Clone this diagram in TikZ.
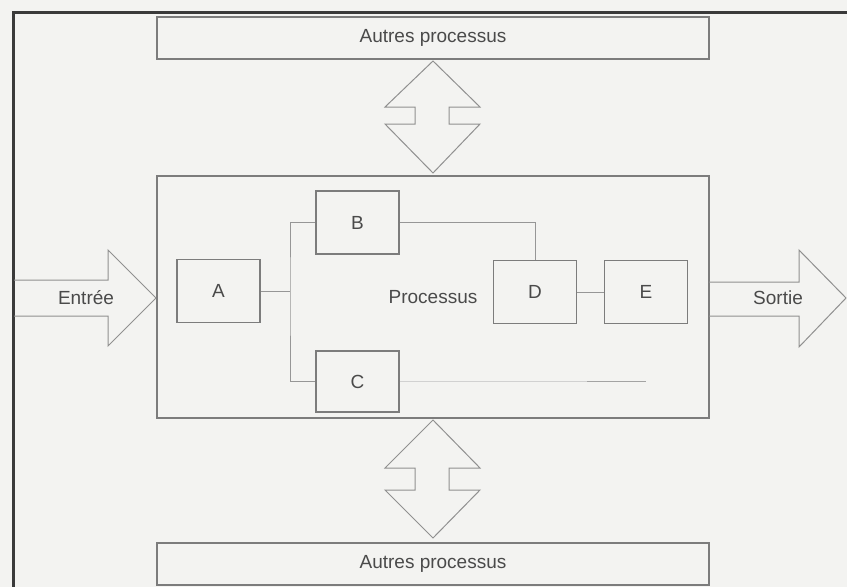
\documentclass[tikz,border=0pt]{standalone}
\usepackage{fontspec}
\setmainfont{Liberation Sans}
\definecolor{paper}{HTML}{F3F3F1}
\definecolor{ink}{HTML}{7C7C7C}
\definecolor{txt}{HTML}{4A4A4A}
\definecolor{frame}{HTML}{3A3A3A}
\begin{document}
\begin{tikzpicture}[x=1pt,y=-1pt,
  every node/.style={font=\fontsize{19}{22}\selectfont, text=txt, inner sep=0pt},
  wide/.style={draw=ink, line width=1.3pt, minimum width=552pt, minimum height=42pt},
  blk/.style={draw=ink, line width=1.6pt, minimum width=83pt, minimum height=63pt},
  wire/.style={draw=ink!80, line width=1pt},
  fat/.style={draw=ink!85, line width=1pt, line join=miter}]
\useasboundingbox (0,0) rectangle (847,587);
\fill[paper] (0,0) rectangle (847,587);
% outer frame (only its left and top sides fall inside the page)
\draw[frame, line width=3pt] (13,600) -- (13,12) -- (860,12);

% main boxes
\node[wide] (top) at (433,38) {Autres processus};
\node[wide, minimum height=242pt] (proc) at (433,297) {Processus};
\node[wide] (bot) at (433,564) {Autres processus};

% inner steps
\node[blk] (A) at (218.5,291) {A};
\node[blk] (B) at (357.5,222.5) {B};
\node[blk, minimum height=61pt] (C) at (357.5,381.5) {C};
\node[blk] (D) at (535,292) {D};
\node[blk] (E) at (646,292) {E};

% connectors between the steps
\coordinate (split) at (290,291);
\draw[wire] (A.east) -- (split);
\draw[wire] (B.west) -| (split) |- (C.west);
\draw[wire] (B.east) -| (D.north);
\draw[wire] (D.east) -- (E.west);
\coordinate (cend) at (646,381.5);
\coordinate (cmid) at (587,381.5);
\draw[draw=ink!35, line width=1pt] (C.east) -- (cmid);
\draw[draw=ink!70, line width=0.8pt] (cmid) -- (cend);

% double block arrows to the other processes
\draw[fat] (433,61) -- (480,107) -- (449,107) -- (449,124) -- (480,124)
  -- (433,173) -- (385,124) -- (415,124) -- (415,107) -- (385,107) -- cycle;
\draw[fat] (433,420) -- (480,468) -- (449,468) -- (449,490) -- (480,490)
  -- (433,538) -- (385,490) -- (415,490) -- (415,468) -- (385,468) -- cycle;

% input and output arrows
\draw[fat] (14,280) -- (108,280) -- (108,250) -- (156,298) -- (108,346)
  -- (108,316) -- (14,316);
\node (in) at (86,298) {Entrée};
\draw[fat] (709,282) -- (799,282) -- (799,250) -- (846,298) -- (799,347)
  -- (799,316) -- (709,316);
\node (out) at (778,298) {Sortie};
\end{tikzpicture}
\end{document}
